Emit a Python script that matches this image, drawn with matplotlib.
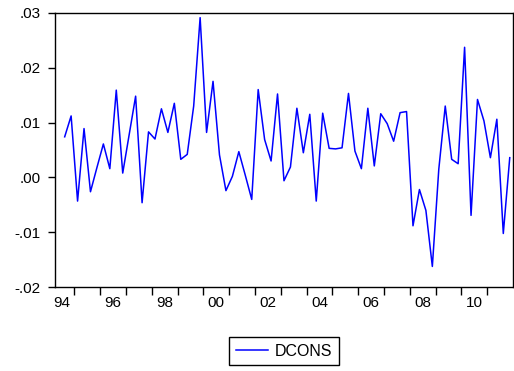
import numpy as np
import pandas as pd
import matplotlib
matplotlib.use("Agg")
import matplotlib.pyplot as plt
from matplotlib.ticker import FixedLocator, FuncFormatter, NullFormatter

plt.rcParams['font.family'] = ['Liberation Sans', 'DejaVu Sans']

# quarterly series, 1994Q3 - 2011Q4
start_quarter = '1994Q3'
dcons = [
    0.0074, 0.0112, -0.0043, 0.0089, -0.0026, 0.0018, 0.0061, 0.0016, 0.0159, 0.0008,
    0.0078, 0.0148, -0.0046, 0.0083, 0.0070, 0.0125, 0.0082, 0.0135, 0.0033, 0.0042,
    0.0130, 0.0291, 0.0082, 0.0175, 0.0041, -0.0024, 0.0002, 0.0047, 0.0004, -0.0040,
    0.0160, 0.0069, 0.0030, 0.0152, -0.0006, 0.0019, 0.0126, 0.0045, 0.0115, -0.0043,
    0.0117, 0.0053, 0.0052, 0.0054, 0.0153, 0.0048, 0.0016, 0.0126, 0.0021, 0.0116,
    0.0098, 0.0066, 0.0118, 0.0120, -0.0088, -0.0022, -0.0060, -0.0162, 0.0015, 0.0130,
    0.0033, 0.0025, 0.0237, -0.0069, 0.0142, 0.0103, 0.0036, 0.0106, -0.0102, 0.0036,
]
year_labels = ['94', '96', '98', '00', '02', '04', '06', '08', '10']
y_ticks = [-0.02, -0.01, 0.00, 0.01, 0.02, 0.03]

periods = pd.period_range(start_quarter, periods=len(dcons), freq='Q')
# plot each quarter at its midpoint
x = periods.year + (periods.quarter - 1) / 4 + 0.125

fig = plt.figure(figsize=(5.14, 3.71), dpi=100)
ax = fig.add_axes([0.107, 0.2256, 0.891, 0.7402])

ax.plot(x, dcons, color='#0000ff', lw=1.1, label='DCONS')

ax.set_xlim(1994.25, 2012.0)
ax.set_ylim(-0.02, 0.03)

# ticks at year boundaries, labels centred in the year
ax.xaxis.set_major_locator(FixedLocator(np.arange(1995, 2012)))
ax.xaxis.set_major_formatter(NullFormatter())
label_years = [1994 + 2 * i + 0.5 for i in range(len(year_labels))]
ax.xaxis.set_minor_locator(FixedLocator(label_years))
ax.set_xticklabels(year_labels, minor=True)
ax.tick_params(axis='x', which='major', direction='out', length=6, width=1)
ax.tick_params(axis='x', which='minor', length=0, pad=6, labelsize=11)

ax.set_yticks(y_ticks)
ax.yaxis.set_major_formatter(FuncFormatter(
    lambda v, p: ('-' if v < -1e-9 else '') + ('%.2f' % abs(v)).lstrip('0')))
ax.tick_params(axis='y', direction='out', length=5, width=1, pad=5.5, labelsize=11)

for s in ax.spines.values():
    s.set_linewidth(1.0)
    s.set_color('black')

leg = fig.legend(loc='center', bbox_to_anchor=(284 / 514, 1 - 351 / 371),
                 fancybox=False, edgecolor='black', framealpha=1,
                 fontsize=11.5, handlelength=2.0, borderpad=0.4,
                 handletextpad=0.45)
leg.get_frame().set_linewidth(1.0)

fig.savefig('out.png', dpi=100)
